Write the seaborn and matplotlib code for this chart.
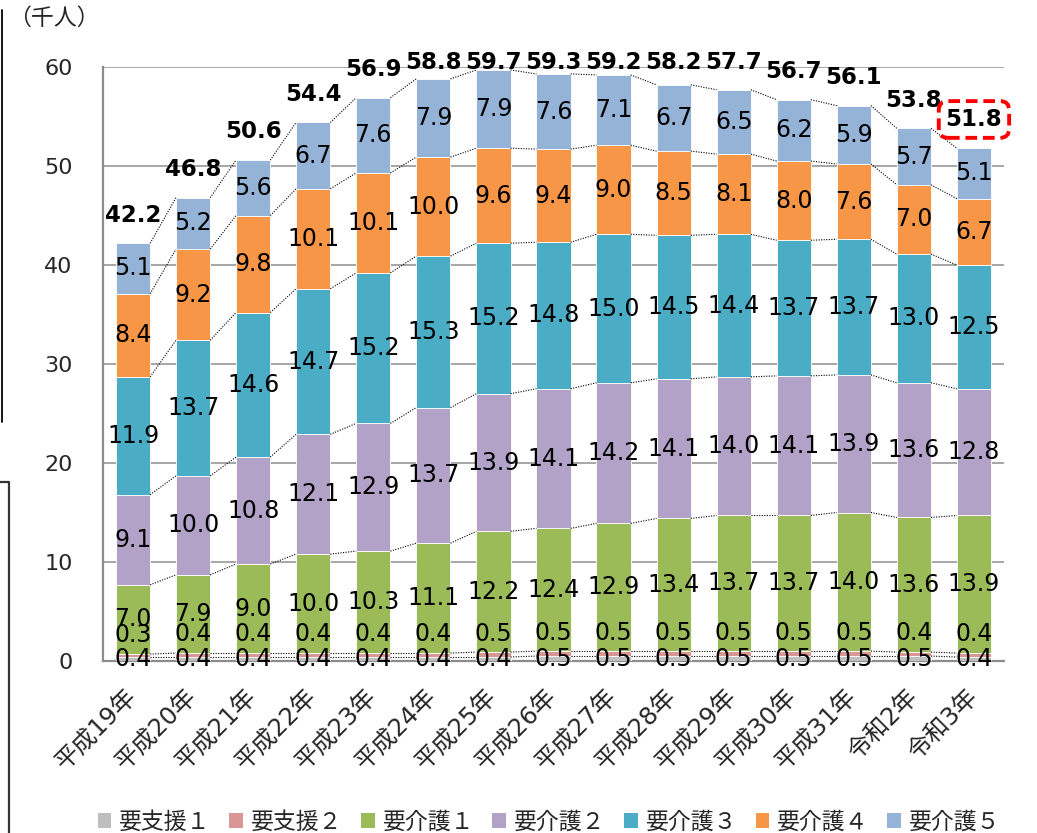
import numpy as np
import matplotlib
matplotlib.use("Agg")
import matplotlib.pyplot as plt
import seaborn as sns
from matplotlib.patches import Patch
from matplotlib.lines import Line2D

# ---- data ----
years = ["平成19年", "平成20年", "平成21年", "平成22年", "平成23年", "平成24年", "平成25年",
         "平成26年", "平成27年", "平成28年", "平成29年", "平成30年", "平成31年", "令和2年", "令和3年"]
shien1 = [0.4, 0.4, 0.4, 0.4, 0.4, 0.4, 0.4, 0.5, 0.5, 0.5, 0.5, 0.5, 0.5, 0.5, 0.4]
shien2 = [0.3, 0.4, 0.4, 0.4, 0.4, 0.4, 0.5, 0.5, 0.5, 0.5, 0.5, 0.5, 0.5, 0.4, 0.4]
kaigo1 = [7.0, 7.9, 9.0, 10.0, 10.3, 11.1, 12.2, 12.4, 12.9, 13.4, 13.7, 13.7, 14.0, 13.6, 13.9]
kaigo2 = [9.1, 10.0, 10.8, 12.1, 12.9, 13.7, 13.9, 14.1, 14.2, 14.1, 14.0, 14.1, 13.9, 13.6, 12.8]
kaigo3 = [11.9, 13.7, 14.6, 14.7, 15.2, 15.3, 15.2, 14.8, 15.0, 14.5, 14.4, 13.7, 13.7, 13.0, 12.5]
kaigo4 = [8.4, 9.2, 9.8, 10.1, 10.1, 10.0, 9.6, 9.4, 9.0, 8.5, 8.1, 8.0, 7.6, 7.0, 6.7]
kaigo5 = [5.1, 5.2, 5.6, 6.7, 7.6, 7.9, 7.9, 7.6, 7.1, 6.7, 6.5, 6.2, 5.9, 5.7, 5.1]
totals = [42.2, 46.8, 50.6, 54.4, 56.9, 58.8, 59.7, 59.3, 59.2, 58.2, 57.7, 56.7, 56.1, 53.8, 51.8]
series_names = ["要支援１", "要支援２", "要介護１", "要介護２", "要介護３", "要介護４", "要介護５"]
series_values = [shien1, shien2, kaigo1, kaigo2, kaigo3, kaigo4, kaigo5]
colors = ["#BFBFBF", "#DA9694", "#9BBB59", "#B3A2C7", "#4BACC6", "#F79646", "#95B3D7"]
y_unit = "（千人）"

# ---- style ----
sns.set_style("white")
plt.rcParams["font.family"] = ["DejaVu Sans", "Noto Sans CJK JP"]

W, H = 1037, 833
fig = plt.figure(figsize=(W / 100, H / 100), dpi=100)
ax = fig.add_axes([103 / W, (H - 661) / H, (1004 - 103) / W, (661 - 67) / H])

bar_w = 0.57
n = len(years)
bottom = np.zeros(n)
tops = []
for name, vals, c in zip(series_names, series_values, colors):
    vals = np.asarray(vals, dtype=float)
    sns.barplot(x=years, y=vals, bottom=bottom.copy(), color=c, saturation=1,
                width=bar_w, errorbar=None, ax=ax, edgecolor="white", linewidth=0.6,
                zorder=3)
    # data labels
    for i, v in enumerate(vals):
        yc = bottom[i] + v / 2
        if name == "要支援２":
            yc += 2.1
        ax.text(i, yc, f"{v:.1f}", ha="center", va="center", fontsize=17,
                color="black", zorder=6)
    bottom = bottom + vals
    tops.append(bottom.copy())

# series (connector) lines
for top in tops:
    for i in range(n - 1):
        ax.plot([i + bar_w / 2, i + 1 - bar_w / 2], [top[i], top[i + 1]],
                color="black", lw=0.8, ls=(0, (1, 1.3)), zorder=4)

# totals
for i, t in enumerate(totals):
    y = min(t + 2.85, 60.5)
    kw = {}
    if i == n - 1:
        y = t + 2.9
        kw["bbox"] = dict(boxstyle="round,pad=0.3,rounding_size=0.4", fc="white",
                          ec="#FF0000", ls=(0, (3, 1.5)), lw=2.8)
    ax.text(i, y, f"{t:.1f}", ha="center", va="center", fontsize=16.5,
            fontweight="bold", color="black", zorder=7, clip_on=False, **kw)

# axes
ax.set_xlim(-0.5, n - 0.5)
ax.set_ylim(0, 60)
ax.set_yticks(np.arange(0, 61, 10))
ax.set_xlabel("")
ax.set_ylabel("")
ax.yaxis.grid(True, color="#A6A6A6", lw=1.4, zorder=0)
ax.xaxis.grid(False)
ax.set_axisbelow(True)
for s in ["top", "right"]:
    ax.spines[s].set_visible(False)
for s in ["left", "bottom"]:
    ax.spines[s].set_color("#8C8C8C")
    ax.spines[s].set_linewidth(1.6)

ax.set_xticks(np.arange(-0.5, n, 1), minor=True)
ax.tick_params(axis="x", which="minor", length=6, width=1.4, color="#8C8C8C", direction="out")
ax.tick_params(axis="x", which="major", length=0, pad=23, labelsize=17.5)
ax.tick_params(axis="y", which="major", length=6, width=1.4, color="#A6A6A6",
               direction="out", pad=16, labelsize=16)
plt.setp(ax.get_xticklabels(), rotation=45, ha="right", va="center", rotation_mode="anchor")

fig.text(8 / W, 1 - 18 / H, y_unit, fontsize=16.5, ha="left", va="center",
         family=["Noto Sans CJK JP"])

# legend
handles = [Patch(facecolor=c, edgecolor="none") for c in colors]
fig.legend(handles, series_names, loc="center", bbox_to_anchor=(549 / W, 1 - 822 / H),
           ncol=7, frameon=False, handlelength=0.6, handleheight=0.6,
           handletextpad=0.35, columnspacing=0.8,
           prop={"family": ["DejaVu Sans", "Noto Sans CJK JP"], "size": 16.5})

# decorative left border fragments
fig.add_artist(Line2D([2 / W, 2 / W], [1 - 10 / H, 1 - 422 / H], transform=fig.transFigure,
                      color="black", lw=1.3))
fig.add_artist(Line2D([0, 9 / W, 9 / W], [1 - 482 / H, 1 - 482 / H, 0], transform=fig.transFigure,
                      color="#333333", lw=1.6))

fig.savefig("out.png", dpi=100)
